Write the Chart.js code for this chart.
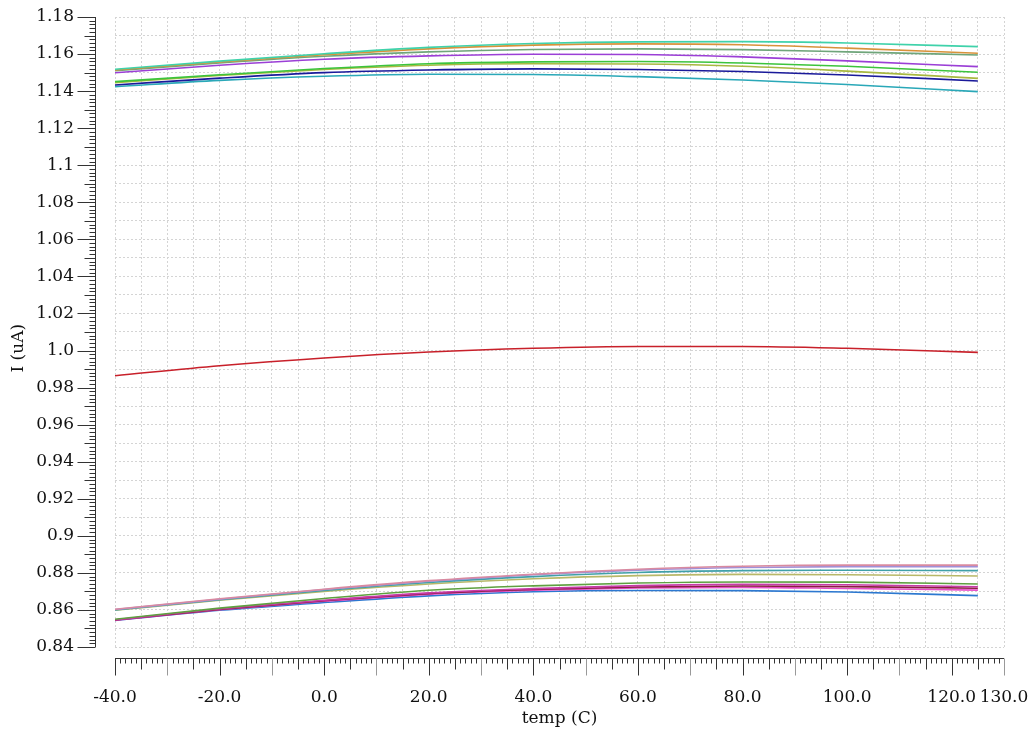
<!DOCTYPE html>
<html>
<head>
<meta charset="utf-8">
<script src="https://cdn.jsdelivr.net/npm/chart.js@4/dist/chart.umd.min.js"></script>
<style>
  body { margin: 0; background: #fff; }
  canvas { display: block; }
</style>
</head>
<body>
<canvas id="myChart" width="1035" height="733"></canvas>
<script>
'use strict';

// temperature sweep points (C)
let temps = [-40, -20, 0, 20, 40, 60, 80, 100, 125];

// upper group
let topTurquoise = [1.1518, 1.1562, 1.1602, 1.1636, 1.1657, 1.1666, 1.1667, 1.1660, 1.1640];
let topOrange = [1.1514, 1.1557, 1.1596, 1.1628, 1.1648, 1.1655, 1.1650, 1.1632, 1.1604];
let topSage = [1.1510, 1.1552, 1.1588, 1.1612, 1.1625, 1.1628, 1.1624, 1.1612, 1.1595];
let topPurple = [1.1499, 1.1540, 1.1572, 1.1590, 1.1599, 1.1598, 1.1585, 1.1563, 1.1532];
let topGreen = [1.1451, 1.1488, 1.1522, 1.1548, 1.1558, 1.1560, 1.1552, 1.1534, 1.1502];
let topOlive = [1.1446, 1.1484, 1.1517, 1.1540, 1.1548, 1.1546, 1.1534, 1.1508, 1.1469];
let topNavy = [1.1433, 1.1470, 1.1500, 1.1514, 1.1520, 1.1517, 1.1506, 1.1487, 1.1455];
let topTeal = [1.1424, 1.1458, 1.1480, 1.1491, 1.1490, 1.1478, 1.1460, 1.1436, 1.1397];

// nominal
let midRed = [0.9864, 0.9918, 0.9960, 0.9992, 1.0012, 1.0022, 1.0022, 1.0012, 0.9990];

// lower group
let lowPink = [0.8604, 0.8660, 0.8712, 0.8758, 0.8793, 0.8820, 0.8836, 0.8842, 0.8842];
let lowLavender = [0.8602, 0.8658, 0.8710, 0.8755, 0.8790, 0.8815, 0.8829, 0.8834, 0.8833];
let lowTeal = [0.8600, 0.8655, 0.8705, 0.8748, 0.8780, 0.8802, 0.8812, 0.8814, 0.8812];
let lowKhaki = [0.8598, 0.8652, 0.8700, 0.8740, 0.8768, 0.8785, 0.8792, 0.8790, 0.8783];
let lowGreen = [0.8550, 0.8610, 0.8662, 0.8706, 0.8730, 0.8745, 0.8751, 0.8750, 0.8740];
let lowMagenta = [0.8547, 0.8605, 0.8652, 0.8692, 0.8715, 0.8731, 0.8738, 0.8736, 0.8725];
let lowMaroon = [0.8546, 0.8603, 0.8650, 0.8688, 0.8710, 0.8724, 0.8729, 0.8726, 0.8717];
let lowFuchsia = [0.8545, 0.8601, 0.8647, 0.8684, 0.8706, 0.8719, 0.8722, 0.8716, 0.8707];
let lowBlue = [0.8543, 0.8598, 0.8640, 0.8676, 0.8698, 0.8705, 0.8704, 0.8697, 0.8677];

// axis ticks
let xTicks = [-40, -20, 0, 20, 40, 60, 80, 100, 120, 130];
let yTicks = [0.84, 0.86, 0.88, 0.9, 0.92, 0.94, 0.96, 0.98, 1.0, 1.02, 1.04, 1.06, 1.08, 1.1, 1.12, 1.14, 1.16, 1.18];

let series = [
  [topTurquoise, '#3fd2aa'],
  [topOrange, '#d8923a'],
  [topSage, '#6fa57a'],
  [topPurple, '#9b3fd6'],
  [topGreen, '#3cc43c'],
  [topOlive, '#a8b840'],
  [topNavy, '#1a1a9a'],
  [topTeal, '#2aa8b8'],
  [midRed, '#c8202a'],
  [lowPink, '#d98aa0'],
  [lowLavender, '#a090d8'],
  [lowTeal, '#40a0a8'],
  [lowKhaki, '#b8b868'],
  [lowGreen, '#5ea040'],
  [lowMagenta, '#c83aa8'],
  [lowMaroon, '#8a2040'],
  [lowFuchsia, '#e84cc8'],
  [lowBlue, '#2c78d0']
];

function makeDataset(values, color) {
  let pts = [];
  for (let i = 0; i < temps.length; i++) {
    pts.push({ x: temps[i], y: values[i] });
  }
  return {
    data: pts,
    borderColor: color,
    borderWidth: 1.6,
    pointRadius: 0,
    cubicInterpolationMode: 'monotone',
    fill: false
  };
}

function yLabel(v) {
  let s = v.toFixed(2);
  if (s.endsWith('0')) {
    s = s.slice(0, -1);
  }
  return s;
}

function isYTick(v) {
  return yTicks.some(t => Math.abs(t - v) < 1e-6);
}

let font = { family: 'DejaVu Serif', size: 17 };

// axis lines drawn off the plot area, like the original tool
const axisPlugin = {
  id: 'offsetAxes',
  afterDraw(chart) {
    let ctx = chart.ctx;
    let area = chart.chartArea;
    let xs = chart.scales.x;
    let ys = chart.scales.y;
    ctx.save();
    ctx.lineWidth = 1;

    // y axis
    let ax = Math.round(area.left - 20) + 0.5;
    ctx.strokeStyle = '#333';
    ctx.beginPath();
    ctx.moveTo(ax, area.top);
    ctx.lineTo(ax, area.bottom);
    ctx.stroke();
    for (let k = 420; k <= 590; k++) {
      let v = k / 500;
      let py = Math.round(ys.getPixelForValue(v)) + 0.5;
      let len = 6;
      if (k % 10 === 0) {
        len = 18;
      } else if (k % 5 === 0) {
        len = 11;
      }
      ctx.beginPath();
      ctx.moveTo(ax - len, py);
      ctx.lineTo(ax, py);
      ctx.stroke();
    }

    // x axis
    let ay = Math.round(area.bottom + 11) + 0.5;
    ctx.beginPath();
    ctx.moveTo(area.left, ay);
    ctx.lineTo(area.right, ay);
    ctx.stroke();
    for (let t = -40; t <= 130; t++) {
      let px = Math.round(xs.getPixelForValue(t)) + 0.5;
      let len = 5;
      ctx.strokeStyle = '#333';
      if (t % 20 === 0) {
        len = 17;
      } else if (t % 10 === 0) {
        len = 17;
        ctx.strokeStyle = '#999';
      } else if (t % 5 === 0) {
        len = 11;
      }
      ctx.beginPath();
      ctx.moveTo(px, ay);
      ctx.lineTo(px, ay + len);
      ctx.stroke();
    }
    ctx.restore();
  }
};

const bgPlugin = {
  id: 'whiteBg',
  beforeDraw(chart) {
    let ctx = chart.ctx;
    ctx.save();
    ctx.fillStyle = '#fff';
    ctx.fillRect(0, 0, chart.width, chart.height);
    ctx.restore();
  }
};

const config = {
  type: 'line',
  data: {
    datasets: series.map(s => makeDataset(s[0], s[1]))
  },
  options: {
    responsive: false,
    animation: false,
    layout: { padding: { top: 17, right: 31, left: 0, bottom: 0 } },
    plugins: {
      legend: { display: false },
      tooltip: { enabled: false }
    },
    scales: {
      x: {
        type: 'linear',
        min: -40,
        max: 130,
        afterBuildTicks(scale) {
          let t = [];
          for (let v = -40; v <= 130; v += 5) {
            t.push({ value: v });
          }
          scale.ticks = t;
        },
        afterFit(scale) {
          scale.height = 86;
        },
        grid: {
          color: '#d4d4d4',
          lineWidth: 1,
          drawTicks: true,
          tickLength: 40,
          tickWidth: 0,
          tickColor: 'rgba(0,0,0,0)'
        },
        border: { display: false, dash: [2, 2] },
        ticks: {
          autoSkip: false,
          maxRotation: 0,
          padding: 0,
          color: '#111',
          font: font,
          callback: function (value) {
            return xTicks.includes(value) ? value.toFixed(1) : '';
          }
        },
        title: {
          display: true,
          text: 'temp (C)',
          color: '#111',
          font: font,
          padding: { top: 4, bottom: 4 }
        }
      },
      y: {
        type: 'linear',
        min: 0.84,
        max: 1.18,
        afterBuildTicks(scale) {
          let t = [];
          for (let k = 84; k <= 118; k++) {
            t.push({ value: k / 100 });
          }
          scale.ticks = t;
        },
        afterFit(scale) {
          scale.width = 115;
        },
        grid: {
          color: '#d4d4d4',
          lineWidth: 1,
          drawTicks: true,
          tickLength: 41,
          tickWidth: 0,
          tickColor: 'rgba(0,0,0,0)'
        },
        border: { display: false, dash: [2, 2] },
        ticks: {
          autoSkip: false,
          padding: 0,
          color: '#111',
          font: font,
          callback: function (value) {
            return isYTick(value) ? yLabel(value) : '';
          }
        },
        title: {
          display: true,
          text: 'I (uA)      ',
          color: '#111',
          font: font,
          padding: { top: 8, bottom: 0 }
        }
      }
    }
  },
  plugins: [bgPlugin, axisPlugin]
};

const myChart = new Chart(document.getElementById('myChart'), config);
</script>
</body>
</html>
